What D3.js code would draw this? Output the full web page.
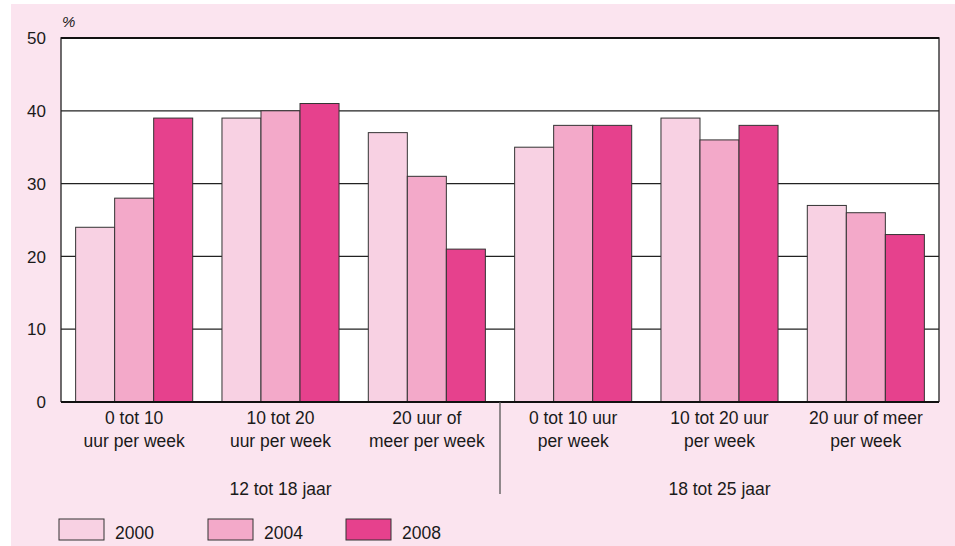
<!DOCTYPE html>
<html>
<head>
<meta charset="utf-8">
<script src="https://cdn.jsdelivr.net/npm/d3@7"></script>
<style>
    body { margin: 0; background: #fff; }
    text { font-family: "Liberation Sans", Arial, sans-serif; fill: #1a1a1a; }
</style>
</head>
<body>
<script>
var years = ['2000', '2004', '2008'];
var categories = [
    ['0 tot 10', 'uur per week'],
    ['10 tot 20', 'uur per week'],
    ['20 uur of', 'meer per week'],
    ['0 tot 10 uur', 'per week'],
    ['10 tot 20 uur', 'per week'],
    ['20 uur of meer', 'per week']
];
var ageGroups = ['12 tot 18 jaar', '18 tot 25 jaar'];
var values2000 = [24, 39, 37, 35, 39, 27];
var values2004 = [28, 40, 31, 38, 36, 26];
var values2008 = [39, 41, 21, 38, 38, 23];
var yTicks = [0, 10, 20, 30, 40, 50];

var colors = ['#f8d1e3', '#f3a9c9', '#e6418d'];
var series = [values2000, values2004, values2008];

var options = { left: 61, right: 939, top: 38, bottom: 402 };

var svg = d3.select('body').append('svg')
    .attr('width', 955)
    .attr('height', 546);

svg.append('rect')
    .attr('x', 11).attr('y', 4)
    .attr('width', 944).attr('height', 542)
    .attr('fill', '#fbe4ef');

svg.append('rect')
    .attr('x', options.left).attr('y', options.top)
    .attr('width', options.right - options.left)
    .attr('height', options.bottom - options.top)
    .attr('fill', '#fff');

var x = d3.scaleBand()
    .domain(d3.range(categories.length))
    .range([options.left, options.right]);

var xInner = d3.scaleBand()
    .domain(d3.range(years.length))
    .range([0, x.bandwidth()])
    .paddingOuter(0.375);

var y = d3.scaleLinear()
    .domain([0, 50])
    .range([options.bottom, options.top]);

// gridlines
svg.append('g').selectAll('line')
    .data(yTicks.slice(1, -1))
    .join('line')
    .attr('x1', options.left).attr('x2', options.right)
    .attr('y1', function (d) { return y(d); })
    .attr('y2', function (d) { return y(d); })
    .attr('stroke', '#222').attr('stroke-width', 1.2);

// bars
categories.forEach(function (c, i) {
    var g = svg.append('g').attr('transform', 'translate(' + x(i) + ',0)');
    series.forEach(function (s, j) {
        g.append('rect')
            .attr('x', xInner(j))
            .attr('y', y(s[i]))
            .attr('width', xInner.bandwidth())
            .attr('height', y(0) - y(s[i]))
            .attr('fill', colors[j])
            .attr('stroke', '#333')
            .attr('stroke-width', 1);
    });
});

// frame
svg.append('path')
    .attr('d', 'M' + options.left + ',' + options.bottom + 'V' + options.top + 'H' + options.right + 'V' + options.bottom)
    .attr('fill', 'none').attr('stroke', '#222').attr('stroke-width', 1.3);
svg.append('line')
    .attr('x1', options.left).attr('x2', options.right)
    .attr('y1', options.top).attr('y2', options.top)
    .attr('stroke', '#111').attr('stroke-width', 2);
svg.append('line')
    .attr('x1', options.left).attr('x2', options.right)
    .attr('y1', y(0)).attr('y2', y(0))
    .attr('stroke', '#111').attr('stroke-width', 2);

// y axis labels
svg.append('g').selectAll('text')
    .data(yTicks)
    .join('text')
    .attr('x', 46)
    .attr('y', function (d) { return y(d); })
    .attr('dy', '0.36em')
    .attr('text-anchor', 'end')
    .attr('font-size', 17)
    .text(function (d) { return d; });

svg.append('text')
    .attr('x', 62).attr('y', 27)
    .attr('font-size', 15)
    .attr('font-style', 'italic')
    .text('%');

// category labels
categories.forEach(function (c, i) {
    c.forEach(function (line, k) {
        svg.append('text')
            .attr('x', x(i) + x.bandwidth() / 2)
            .attr('y', 424 + k * 23)
            .attr('text-anchor', 'middle')
            .attr('font-size', 17.5)
            .text(line);
    });
});

// age groups
var mid = x(3);
svg.append('line')
    .attr('x1', mid).attr('x2', mid)
    .attr('y1', options.bottom).attr('y2', 494)
    .attr('stroke', '#555').attr('stroke-width', 1.3);

ageGroups.forEach(function (a, i) {
    var x0 = i === 0 ? options.left : mid;
    var x1 = i === 0 ? mid : options.right;
    svg.append('text')
        .attr('x', (x0 + x1) / 2)
        .attr('y', 495)
        .attr('text-anchor', 'middle')
        .attr('font-size', 17.5)
        .text(a);
});

// legend
var legendX = [59, 208, 346];
years.forEach(function (yr, j) {
    svg.append('rect')
        .attr('x', legendX[j]).attr('y', 519)
        .attr('width', 45).attr('height', 21)
        .attr('fill', colors[j])
        .attr('stroke', '#333').attr('stroke-width', 1);
    svg.append('text')
        .attr('x', legendX[j] + 56).attr('y', 539)
        .attr('font-size', 17.5)
        .text(yr);
});
</script>
</body>
</html>
